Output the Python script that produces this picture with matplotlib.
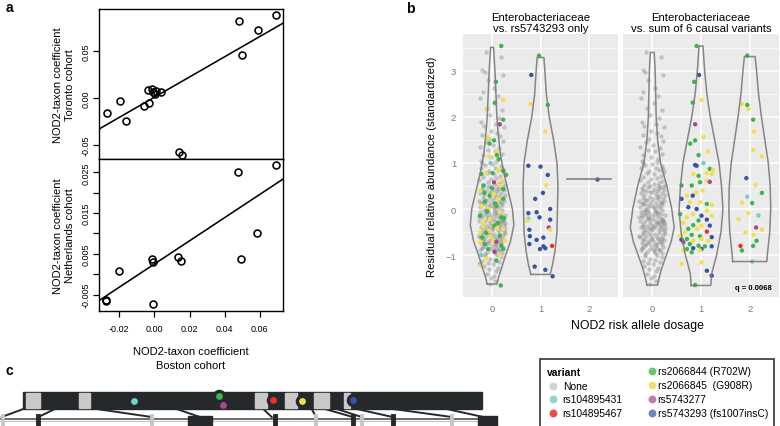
import numpy as np
import matplotlib
matplotlib.use("Agg")
import matplotlib.pyplot as plt
from matplotlib.patches import Rectangle

plt.rcParams["font.family"] = ["Liberation Sans", "DejaVu Sans"]
plt.rcParams["axes.unicode_minus"] = False

# ---------------- panel a data ----------------
boston_top = [-0.027, -0.0194, -0.016, -0.0058, -0.0031, -0.0035, -0.0013, -0.0009,
              0.0006, 0.001, 0.004, 0.0139, 0.0156, 0.048, 0.0497, 0.0588, 0.0692]
toronto = [-0.0156, -0.0032, -0.0248, -0.0085, -0.005, 0.0085, 0.0092, 0.0064,
           0.0043, 0.0074, 0.0067, -0.0571, -0.0603, 0.0819, 0.046, 0.0727, 0.088]
boston_bot = [-0.0276, -0.0274, -0.0198, -0.0013, -0.0007, -0.0005, 0.0133, 0.0152,
              0.0478, 0.0493, 0.0584, 0.069]
netherlands = [-0.0065, -0.0062, 0.0008, 0.0038, 0.003, -0.0073, 0.0043, 0.0033,
               0.025, 0.0038, 0.0102, 0.0268]
fit_toronto = (1.078, 0.0008)    # slope, intercept
fit_netherlands = (0.285, 0.0025)

# ---------------- panel b data ----------------
# individuals without a risk variant (dosage 0 in both facets): value and jitter
gray_y = [3.40, 3.30, 3.02, 2.97, 2.90, 2.80, 2.62, 2.55, 2.45, 2.40, 2.30, 2.20, 2.15, 2.05,
          1.98, 1.90, 1.85, 1.80, 1.78, 1.70, 1.65, 1.60, 1.58, 1.52, 1.48, 1.45, 1.40, 1.35,
          1.32, 1.28, 1.25, 1.20, 1.18, 1.12, 1.08, 1.05, 1.02,
          0.98, 0.95, 0.93, 0.90, 0.88, 0.85, 0.82, 0.80, 0.78, 0.75, 0.72, 0.70, 0.68, 0.65,
          0.63, 0.60, 0.58, 0.56, 0.55, 0.53, 0.52, 0.51, 0.50, 0.99, 0.87,
          0.48, 0.47, 0.45, 0.44, 0.42, 0.40, 0.39, 0.37, 0.35, 0.34, 0.32, 0.30, 0.29, 0.27,
          0.25, 0.24, 0.22, 0.21, 0.19, 0.18, 0.16, 0.15, 0.13, 0.12, 0.10, 0.09, 0.08, 0.06,
          0.05, 0.04, 0.02, 0.01, 0.00, 0.47, 0.41, 0.36, 0.31, 0.26, 0.20, 0.14, 0.11, 0.07,
          0.03, 0.43, 0.17,
          -0.02, -0.03, -0.05, -0.06, -0.08, -0.09, -0.10, -0.12, -0.13, -0.15, -0.16, -0.18,
          -0.19, -0.20, -0.22, -0.23, -0.25, -0.26, -0.27, -0.29, -0.30, -0.31, -0.33, -0.34,
          -0.35, -0.37, -0.38, -0.39, -0.40, -0.42, -0.43, -0.44, -0.45, -0.46, -0.48, -0.49,
          -0.04, -0.11, -0.17, -0.21, -0.24, -0.28, -0.32, -0.36, -0.41, -0.47, -0.07, -0.14,
          -0.35, -0.44, -0.27, -0.19, -0.39, -0.09, -0.30,
          -0.51, -0.52, -0.54, -0.55, -0.57, -0.58, -0.60, -0.61, -0.63, -0.64, -0.66, -0.67,
          -0.69, -0.70, -0.72, -0.73, -0.75, -0.77, -0.78, -0.80, -0.82, -0.83, -0.85, -0.87,
          -0.89, -0.90, -0.92, -0.94, -0.96, -0.98, -0.53, -0.59, -0.62, -0.65, -0.68, -0.71,
          -0.74, -0.79, -0.84, -0.88, -0.56, -0.66, -0.76, -0.86, -0.95,
          -1.00, -1.03, -1.05, -1.08, -1.10, -1.13, -1.16, -1.18, -1.20, -1.24, -1.27, -1.30,
          -1.35, -1.40, -1.45, -1.50, -1.56, -1.62]
gray_dx = [-0.12, 0.18, -0.20, -0.15, 0.22, -0.08, 0.05, -0.18, 0.12, -0.24, 0.03, -0.10, 0.20,
           -0.05, 0.14, -0.22, 0.08, -0.16, 0.25, -0.02, 0.10, -0.20, 0.17, -0.07, 0.22, -0.13,
           0.02, -0.25, 0.15, -0.09, 0.06, 0.20, -0.18, -0.03, 0.12, -0.22, 0.09,
           0.00, -0.15, 0.19, 0.07, -0.23, 0.13, -0.06, 0.24, -0.11, 0.03, 0.17, -0.19, 0.09,
           -0.02, -0.26, 0.21, -0.09, 0.14, 0.04, -0.17, 0.26, -0.04, 0.11, -0.20, 0.23,
           -0.08, 0.16, -0.21, 0.04, 0.24, -0.13, 0.10, -0.01, 0.19, -0.24, 0.07, -0.16, 0.14,
           -0.05, 0.22, -0.19, 0.01, 0.12, -0.10, 0.25, -0.03, 0.17, -0.22, 0.08, -0.14, 0.20,
           -0.07, 0.11, -0.25, 0.03, 0.15, -0.12, 0.06, 0.23, -0.18, -0.04, 0.26, 0.09, -0.15,
           0.18, -0.20, 0.00, -0.09, 0.13, -0.27,
           0.21, -0.17, 0.05, -0.24, 0.12, -0.06, 0.18, -0.13, 0.26, -0.02, 0.09, -0.21, 0.15,
           -0.09, 0.02, 0.23, -0.15, 0.07, -0.26, 0.19, -0.04, 0.11, -0.19, 0.24, 0.00, -0.11,
           0.16, -0.23, 0.06, -0.07, 0.21, -0.16, 0.13, -0.01, 0.25, -0.20, -0.10, 0.03, -0.27,
           0.20, -0.05, 0.14, 0.08, -0.18, 0.27, -0.12, 0.10, -0.22, 0.17, -0.03, 0.22, -0.08,
           0.01, -0.14, 0.26,
           -0.07, 0.14, -0.20, 0.05, 0.22, -0.12, 0.09, -0.25, 0.17, -0.03, -0.16, 0.25, 0.02,
           -0.09, 0.13, -0.22, 0.07, 0.19, -0.14, -0.01, 0.23, -0.18, 0.10, -0.05, 0.16, -0.24,
           0.04, -0.11, 0.20, -0.15, 0.27, -0.28, 0.00, 0.11, -0.19, 0.18, -0.06, 0.08, -0.21,
           0.13, -0.02, 0.21, -0.13, 0.03, 0.06,
           0.10, -0.14, 0.19, -0.04, 0.06, -0.20, 0.15, -0.09, 0.02, -0.16, 0.12, -0.06, 0.08,
           -0.11, 0.04, -0.02, 0.07, -0.05]

# carriers: (jitter, value, variant code)
# G=rs2066844, Y=rs2066845, B=rs5743293, M=rs5743277, T=rs104895431, R=rs104895467
snp_dose0 = [(0.19, 3.54, "G"), (0.08, 2.76, "G"), (0.23, 2.37, "Y"), (0.06, 2.31, "G"),
             (-0.12, 2.17, "Y"), (0.23, 1.94, "G"), (0.16, 1.84, "M"), (-0.08, 1.56, "Y"),
             (0.04, 1.49, "G"), (-0.05, 1.42, "G"), (0.09, 1.24, "Y"), (-0.06, 1.14, "Y"),
             (0.10, 1.17, "G"), (0.14, 1.085, "G"), (-0.03, 1.00, "T"), (-0.22, 0.76, "G"),
             (-0.13, 0.78, "Y"), (0.01, 0.78, "G"), (0.13, 0.85, "Y"), (0.23, 0.83, "G"),
             (0.29, 0.74, "G"), (0.04, 0.58, "M"), (0.16, 0.51, "Y"), (-0.18, 0.51, "G"),
             (-0.25, 0.40, "Y"), (0.23, 0.43, "G"), (-0.05, 0.29, "G"), (0.12, 0.22, "Y"),
             (-0.15, 0.16, "G"), (-0.22, 0.07, "Y"), (0.23, 0.22, "G"), (-0.08, 0.00, "Y"),
             (0.09, 0.07, "G"), (0.16, -0.07, "Y"), (-0.25, -0.145, "G"), (-0.05, -0.22, "Y"),
             (0.19, -0.18, "G"), (-0.18, -0.29, "Y"), (0.05, -0.36, "G"), (0.23, -0.43, "Y"),
             (-0.25, -0.51, "Y"), (-0.12, -0.52, "G"), (-0.05, -0.47, "Y"), (0.16, -0.58, "G"),
             (0.02, -0.69, "Y"), (0.09, -0.71, "M"), (-0.15, -0.76, "G"), (-0.25, -0.72, "Y"),
             (0.19, -0.80, "G"), (0.05, -0.93, "M"), (-0.08, -0.87, "G"), (0.16, -1.01, "Y"),
             (0.23, -0.87, "G"), (-0.22, -1.00, "T"), (-0.12, -1.08, "Y"), (-0.25, -1.19, "T"),
             (0.09, -1.12, "G"), (-0.23, -1.23, "Y"), (0.18, -1.66, "G"), (0.00, 0.45, "G"),
             (-0.10, -0.05, "G"), (0.12, -0.30, "G"), (-0.20, -0.62, "G"), (0.25, -0.20, "G"),
             (0.06, 0.12, "G"), (-0.16, 0.35, "G"), (0.20, 0.62, "Y"), (-0.02, -0.60, "Y"),
             (0.10, -0.42, "Y"), (-0.18, -0.38, "Y"), (0.03, 0.32, "Y"), (0.26, -0.68, "Y")]
snp_dose1 = [(-0.03, 3.33, "G"), (-0.19, 2.91, "B"), (-0.20, 2.28, "Y"), (0.15, 2.26, "G"),
             (0.10, 1.68, "Y"), (-0.25, 0.94, "B"), (0.00, 0.92, "B"), (0.15, 0.74, "B"),
             (0.12, 0.52, "Y"), (0.05, 0.35, "B"), (-0.11, 0.22, "B"), (0.20, 0.00, "B"),
             (-0.25, -0.09, "B"), (-0.08, -0.07, "B"), (-0.02, -0.18, "B"), (-0.25, -0.21, "T"),
             (-0.27, -0.25, "Y"), (0.20, -0.23, "B"), (0.17, -0.40, "M"), (0.20, -0.45, "Y"),
             (-0.23, -0.45, "B"), (-0.22, -0.59, "B"), (-0.08, -0.67, "B"), (0.06, -0.62, "B"),
             (-0.23, -0.76, "B"), (0.06, -0.81, "B"), (0.24, -0.80, "R"), (0.10, -0.85, "B"),
             (-0.01, -0.87, "B"), (-0.12, -1.25, "B"), (0.10, -1.32, "B"), (0.25, -1.46, "B")]
snp_dose2 = [(0.16, 0.66, "B")]

sum_dose1 = [(-0.09, 3.54, "G"), (-0.04, 2.91, "B"), (-0.14, 2.76, "G"), (0.01, 2.37, "Y"),
             (-0.17, 2.31, "G"), (-0.12, 1.84, "M"), (0.05, 1.56, "Y"), (-0.12, 1.49, "G"),
             (-0.22, 1.42, "G"), (-0.05, 1.17, "G"), (0.15, 1.25, "Y"),
             (-0.12, 0.955, "B"), (-0.09, 0.94, "B"), (0.05, 1.00, "T"), (-0.05, 0.72, "G"),
             (-0.16, 0.76, "Y"), (0.12, 0.78, "Y"), (0.18, 0.87, "G"), (0.22, 0.76, "Y"),
             (0.25, 0.85, "Y"), (0.12, 0.615, "Y"), (0.18, 0.59, "M"), (-0.40, 0.51, "G"),
             (-0.19, 0.51, "G"), (-0.02, 0.58, "G"), (0.03, 0.40, "Y"), (-0.10, 0.36, "Y"),
             (-0.29, 0.29, "Y"), (-0.17, 0.29, "B"), (-0.40, 0.22, "B"), (-0.23, 0.145, "Y"),
             (-0.02, 0.145, "Y"), (0.12, 0.11, "G"), (0.22, 0.09, "Y"), (-0.26, 0.04, "B"),
             (-0.09, 0.00, "B"), (0.12, -0.035, "Y"), (-0.43, -0.11, "G"), (-0.16, -0.11, "Y"),
             (0.01, -0.145, "B"), (0.22, -0.145, "Y"), (-0.29, -0.18, "Y"), (-0.05, -0.25, "G"),
             (0.12, -0.23, "B"), (-0.36, -0.30, "Y"), (-0.16, -0.35, "G"), (0.01, -0.36, "Y"),
             (0.18, -0.36, "B"), (-0.26, -0.43, "G"), (-0.08, -0.43, "Y"), (0.12, -0.49, "R"),
             (-0.33, -0.51, "Y"), (-0.43, -0.59, "Y"), (-0.19, -0.56, "G"), (-0.02, -0.59, "G"),
             (0.22, -0.61, "B"), (-0.29, -0.65, "G"), (-0.40, -0.665, "B"), (-0.16, -0.69, "Y"),
             (0.01, -0.65, "Y"), (0.15, -0.69, "Y"), (-0.36, -0.72, "M"), (-0.23, -0.76, "G"),
             (-0.05, -0.795, "G"), (0.08, -0.81, "G"), (0.22, -0.81, "B"), (-0.29, -0.87, "G"),
             (-0.16, -0.85, "B"), (0.01, -0.87, "B"), (-0.02, -0.90, "Y"), (-0.36, -0.90, "Y"),
             (-0.19, -0.94, "G"), (-0.40, -1.19, "Y"), (0.01, -1.16, "Y"), (0.12, -1.34, "B"),
             (0.22, -1.445, "B"), (-0.12, -1.65, "G")]
sum_dose2 = [(-0.05, 3.33, "G"), (-0.16, 2.28, "Y"), (-0.05, 2.26, "G"), (-0.03, 2.17, "Y"),
             (0.07, 1.94, "G"), (0.09, 1.68, "Y"), (0.07, 1.28, "Y"), (0.25, 1.14, "Y"),
             (-0.07, 0.67, "B"), (0.12, 0.52, "Y"), (-0.05, 0.27, "T"), (0.25, 0.35, "G"),
             (-0.16, 0.14, "Y"), (0.05, 0.13, "G"), (-0.03, -0.09, "Y"), (-0.23, -0.22, "Y"),
             (0.18, -0.14, "T"), (0.13, -0.40, "M"), (-0.09, -0.51, "Y"), (0.25, -0.45, "Y"),
             (0.08, -0.56, "Y"), (0.14, -0.69, "G"), (-0.19, -0.80, "R"), (0.07, -0.80, "G"),
             (-0.16, -0.90, "G"), (0.05, -1.14, "T")]

# violin outlines: value levels and half widths
violins = {
    ("snp", 0): ([-1.63, -1.5, -1.3, -1.0, -0.7, -0.35, 0.0, 0.4, 0.8, 1.2, 1.6, 2.0, 2.5, 3.0, 3.51],
                 [0.10, 0.13, 0.19, 0.28, 0.38, 0.45, 0.42, 0.33, 0.24, 0.17, 0.13, 0.10, 0.08, 0.06, 0.03]),
    ("snp", 1): ([-1.42, -1.2, -0.9, -0.5, 0.0, 0.5, 1.0, 1.5, 2.0, 2.5, 3.0, 3.29],
                 [0.20, 0.25, 0.30, 0.34, 0.35, 0.36, 0.34, 0.27, 0.18, 0.12, 0.09, 0.07]),
    ("snp", 2): ([0.66, 0.66], [0.45, 0.45]),
    ("sum", 0): ([-1.65, -1.5, -1.3, -1.0, -0.7, -0.4, 0.0, 0.5, 1.0, 1.5, 2.0, 2.5, 3.0, 3.40],
                 [0.11, 0.14, 0.19, 0.29, 0.39, 0.45, 0.40, 0.30, 0.17, 0.11, 0.08, 0.07, 0.06, 0.04]),
    ("sum", 1): ([-1.66, -1.4, -1.0, -0.5, 0.0, 0.5, 1.0, 1.5, 2.0, 2.5, 3.0, 3.54],
                 [0.20, 0.22, 0.32, 0.41, 0.45, 0.42, 0.37, 0.28, 0.19, 0.12, 0.075, 0.04]),
    ("sum", 2): ([-1.14, -1.0, -0.5, 0.0, 0.5, 1.0, 1.5, 2.0, 2.5, 3.0, 3.31],
                 [0.35, 0.36, 0.41, 0.43, 0.42, 0.38, 0.31, 0.24, 0.18, 0.14, 0.11]),
}

variant_names = ["None", "rs104895431", "rs104895467", "rs2066844 (R702W)",
                 "rs2066845  (G908R)", "rs5743277", "rs5743293 (fs1007insC)"]
point_colors = {"N": "#7E7E7E", "T": "#6FD3C1", "R": "#EE3124", "G": "#3CB54A",
                "Y": "#F2DF4B", "M": "#AE4594", "B": "#3953A4"}
legend_colors = ["#D2D2D2", "#86D8CA", "#EA5045", "#6CC36E", "#EEE06E", "#C27BB0", "#6D86BF"]

# ---------------- panel c data (schematic, drawing units) ----------------
protein_span = (23.3, 482.3)
light_boxes = [(25.5, 40), (79, 90), (255, 267), (285, 297), (314, 328.5), (344, 350)]
variant_marks = [(134.3, 401.7, "T", False), (219.3, 396.7, "G", True), (222.7, 406.0, "M", False),
                 (272.7, 401.0, "R", True), (301.7, 401.7, "Y", True), (353.3, 401.0, "B", True)]
exon_light = [3, 152, 316, 362, 452]
exon_dark = [38, 275, 353, 393]
exon_blocks = [(188, 212), (478, 497)]
links = [(23.3, 1.7), (55, 38.3), (96.7, 151.7), (176.7, 200), (263.3, 271.7), (311.7, 316),
         (325, 352.7), (336.7, 361.7), (356.7, 392.7), (393.3, 451.7), (446.7, 483.3)]

W, H = 780, 427
fig = plt.figure(figsize=(7.8, 4.27), dpi=100)


def box(l, t, r, b):
    return [l / W, 1 - b / H, (r - l) / W, (b - t) / H]


# ---------------- panel a ----------------
ax_t = fig.add_axes(box(99, 10, 283, 160))
ax_b = fig.add_axes(box(99, 160, 283, 312))
xlim = (-0.0314, 0.0731)
xs = np.array(xlim)
for ax, yv, xv, fit in [(ax_t, toronto, boston_top, fit_toronto),
                        (ax_b, netherlands, boston_bot, fit_netherlands)]:
    ax.plot(xv, yv, "o", mfc="none", mec="black", ms=5.0, mew=1.15)
    ax.plot(xs, fit[0] * xs + fit[1], color="black", lw=1.15)
    ax.set_xlim(*xlim)
    for s in ax.spines.values():
        s.set_linewidth(1.0)
    ax.tick_params(direction="out", length=4, width=0.9, labelsize=6.5, pad=2)

ax_t.set_ylim(-0.0649, 0.0947)
ax_t.set_xticks([])
ax_t.set_yticks([-0.05, 0.0, 0.05])
ax_t.set_yticklabels(["-0.05", "0.00", "0.05"], rotation=90, va="center")
ax_t.set_ylabel("NOD2-taxon coefficient\nToronto cohort", fontsize=8, labelpad=5,
                linespacing=1.25)

ax_b.set_ylim(-0.009, 0.02826)
ax_b.set_yticks([-0.005, 0.0, 0.005, 0.01, 0.015, 0.02, 0.025])
ax_b.set_yticklabels(["-0.005", "", "0.005", "", "0.015", "", "0.025"], rotation=90, va="center")
ax_b.set_xticks([-0.02, 0.0, 0.02, 0.04, 0.06])
ax_b.set_xticklabels(["-0.02", "0.00", "0.02", "0.04", "0.06"])
ax_b.tick_params(axis="x", pad=5)
ax_b.set_ylabel("NOD2-taxon coefficient\nNetherlands cohort", fontsize=8, labelpad=5,
                linespacing=1.25)
ax_b.set_xlabel("NOD2-taxon coefficient\nBoston cohort", fontsize=8, labelpad=10,
                linespacing=1.45)

# ---------------- panel b ----------------
ax_l = fig.add_axes(box(463, 35, 618, 298))
ax_r = fig.add_axes(box(623, 35, 779, 298))
facets = [(ax_l, "snp", "Enterobacteriaceae\nvs. rs5743293 only",
           [snp_dose0, snp_dose1, snp_dose2]),
          (ax_r, "sum", "Enterobacteriaceae\nvs. sum of 6 causal variants",
           [[], sum_dose1, sum_dose2])]
for ax, key, title, groups in facets:
    ax.set_facecolor("#EBEBEB")
    for s in ax.spines.values():
        s.set_visible(False)
    ax.set_xlim(-0.6, 2.6)
    ax.set_ylim(-1.91, 3.80)
    ax.set_xticks([0, 1, 2])
    ax.set_yticks([-1, 0, 1, 2, 3])
    ax.set_yticks([-1.5, -0.5, 0.5, 1.5, 2.5, 3.5], minor=True)
    ax.grid(which="major", color="white", lw=1.1)
    ax.grid(which="minor", axis="y", color="white", lw=0.5)
    ax.set_axisbelow(True)
    ax.tick_params(which="both", length=0, labelsize=6.8, labelcolor="#7A7A7A", pad=5)
    ax.set_title(title, fontsize=8.2, pad=2, linespacing=1.1)

    ax.scatter(np.array(gray_dx[:len(gray_y)]), gray_y[:len(gray_dx)], s=10,
               color=point_colors["N"], alpha=0.38, linewidths=0, zorder=2)
    for dose, pts in enumerate(groups):
        if not pts:
            continue
        ax.scatter([dose + p[0] for p in pts], [p[1] for p in pts], s=10,
                   color=[point_colors[p[2]] for p in pts], linewidths=0, zorder=3)
    for dose in range(3):
        yv, wv = violins[(key, dose)]
        yv = np.array(yv)
        wv = np.array(wv)
        if dose == 2 and key == "snp":
            ax.plot([dose - wv[0], dose + wv[0]], [yv[0], yv[0]], color="#7A7A7A", lw=1.1, zorder=4)
            continue
        px = np.concatenate([dose - wv, (dose + wv)[::-1], [dose - wv[0]]])
        py = np.concatenate([yv, yv[::-1], [yv[0]]])
        ax.plot(px, py, color="#7A7A7A", lw=1.1, alpha=0.9, zorder=4)

ax_l.set_yticklabels(["\u22121", "0", "1", "2", "3"])
ax_r.set_yticklabels([])
ax_l.set_ylabel("Residual relative abundance (standardized)", fontsize=8.2, labelpad=6)
ax_r.text(0.955, 0.038, "q = 0.0068", transform=ax_r.transAxes, ha="right", va="center",
          fontsize=5.5, fontweight="bold")
fig.text(637 / W, 1 - 326 / H, "NOD2 risk allele dosage", ha="center", va="center", fontsize=8.8)

# ---------------- overlay: panel c, legend, letters ----------------
ov = fig.add_axes([0, 0, 1, 1])
ov.set_xlim(0, W)
ov.set_ylim(H, 0)
ov.axis("off")

dark = "#25292C"
ov.add_patch(Rectangle((protein_span[0], 393), protein_span[1] - protein_span[0], 16.5,
                       color=dark, zorder=2))
for l, r in light_boxes:
    ov.add_patch(Rectangle((l, 393.8), r - l, 14.8, color="#C9C9C9", zorder=3))
ov.plot([0, 497], [420, 420], color="#6A6A6A", lw=1.4, zorder=2)
ov.plot([0, 497], [421.8, 421.8], color="#C4C4C4", lw=0.8, zorder=2)
for x0, x1 in links:
    ov.plot([x0, x1], [410, 418], color=dark, lw=1.4, zorder=2)
for x in exon_light:
    ov.plot([x, x], [417, 427], color="#C6C6C6", lw=2.8, zorder=3)
for x in exon_dark:
    ov.plot([x, x], [417, 427], color=dark, lw=3.5, zorder=3)
for l, r in exon_blocks:
    ov.add_patch(Rectangle((l, 417), r - l, 10, color=dark, zorder=3))
for x, y, code, ring in variant_marks:
    if ring:
        ov.scatter([x], [y], s=95, color=dark, linewidths=0, zorder=4)
    ov.scatter([x], [y], s=24, color=point_colors[code], linewidths=0, zorder=5)

# legend
ov.add_patch(Rectangle((539.5, 359.5), 234, 70, facecolor="white", edgecolor="#333333",
                       lw=1.2, zorder=2))
ov.text(547, 373, "variant", fontsize=7.4, fontweight="bold", va="center", zorder=3)
rows = [386.7, 400, 414, 372.3, 386, 400, 414]
for i, (name, col) in enumerate(zip(variant_names, legend_colors)):
    mx, tx = (553.3, 562.7) if i < 3 else (651.7, 657.7)
    ov.scatter([mx], [rows[i]], s=32, color=col, linewidths=0, zorder=3)
    ov.text(tx, rows[i], name, fontsize=7.4, va="center", zorder=3)

for letter, x, y in [("a", 6, 8), ("b", 406, 9), ("c", 6, 371)]:
    ov.text(x, y, letter, fontsize=10, fontweight="bold", ha="left", va="center")

fig.savefig("out.png", dpi=100)
